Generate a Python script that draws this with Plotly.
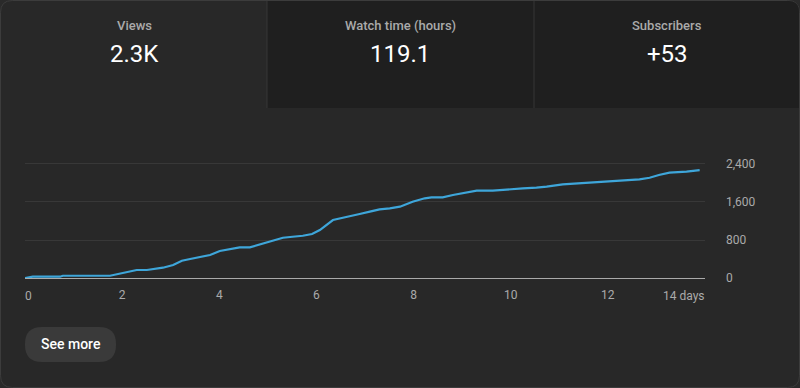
import plotly.graph_objects as go

# ---- data ----
days = [0, 0.16, 0.72, 0.78, 1.75, 2.02, 2.30, 2.51, 2.72, 2.84, 3.05, 3.23, 3.40, 3.60,
        3.81, 4.01, 4.22, 4.42, 4.63, 4.84, 5.04, 5.31, 5.51, 5.72, 5.91, 6.07, 6.34,
        6.48, 6.69, 6.89, 7.10, 7.30, 7.51, 7.72, 7.98, 8.23, 8.37, 8.60, 8.81, 9.09,
        9.30, 9.63, 9.98, 10.25, 10.53, 10.74, 11.07, 11.36, 11.69, 11.83, 12.10, 12.39,
        12.65, 12.86, 13.05, 13.27, 13.48, 13.62, 13.89]
views = [0, 27, 27, 48, 48, 105, 168, 168, 190, 217, 274, 364, 400, 442,
         484, 568, 604, 646, 646, 709, 779, 848, 869, 890, 926, 1010, 1221,
         1257, 1305, 1347, 1396, 1446, 1467, 1501, 1606, 1678, 1699, 1699, 1747, 1796,
         1838, 1838, 1874, 1888, 1901, 1922, 1972, 1993, 2006, 2027, 2042, 2063,
         2078, 2111, 2168, 2217, 2225, 2238, 2273]

x_tick_vals = [0, 2, 4, 6, 8, 10, 12, 14]
x_tick_labels = ["0", "2", "4", "6", "8", "10", "12", "14 days"]
y_tick_vals = [0, 800, 1600, 2400]

metric_names = ["Views", "Watch time (hours)", "Subscribers"]
metric_values = ["2.3K", "119.1", "+53"]
button_label = "See more"

W, H = 800, 388
FONT = "Roboto"
Y_MAX = 2430


def X(px):
    return px / W


def Y(py):
    return 1 - py / H


def rounded_path(x0, y0, x1, y1, r_tl=0, r_tr=0, r_br=0, r_bl=0):
    p = f"M {X(x0 + r_tl)},{Y(y0)} L {X(x1 - r_tr)},{Y(y0)} "
    p += f"Q {X(x1)},{Y(y0)} {X(x1)},{Y(y0 + r_tr)} "
    p += f"L {X(x1)},{Y(y1 - r_br)} Q {X(x1)},{Y(y1)} {X(x1 - r_br)},{Y(y1)} "
    p += f"L {X(x0 + r_bl)},{Y(y1)} Q {X(x0)},{Y(y1)} {X(x0)},{Y(y1 - r_bl)} "
    p += f"L {X(x0)},{Y(y0 + r_tl)} Q {X(x0)},{Y(y0)} {X(x0 + r_tl)},{Y(y0)} Z"
    return p


fig = go.Figure()
fig.add_trace(go.Scatter(x=days, y=views, mode="lines",
                         line=dict(color="#3ea6da", width=2.2), hoverinfo="skip",
                         showlegend=False))

shapes = []
# card
shapes.append(dict(type="path", xref="paper", yref="paper", layer="below",
                   path=rounded_path(0.5, 0.5, 799.5, 387.5, 12, 12, 12, 12),
                   fillcolor="#282828", line=dict(color="#3c3c3c", width=1)))
# unselected tabs
shapes.append(dict(type="path", xref="paper", yref="paper", layer="below",
                   path=rounded_path(267, 1, 799, 108, 0, 11, 0, 0),
                   fillcolor="#1f1f1f", line=dict(width=0)))
# dividers
for xd in [267, 534]:
    shapes.append(dict(type="line", xref="paper", yref="paper", layer="below",
                       x0=X(xd), x1=X(xd), y0=Y(1), y1=Y(108),
                       line=dict(color="#363636", width=1)))
# See more button
shapes.append(dict(type="path", xref="paper", yref="paper", layer="below",
                   path=rounded_path(25, 327, 116, 362, 17, 17, 17, 17),
                   fillcolor="#3a3a3a", line=dict(width=0)))

annotations = []
centers = [134, 400, 667]
for cx, name, val in zip(centers, metric_names, metric_values):
    annotations.append(dict(x=X(cx), y=Y(26), xref="paper", yref="paper",
                            text=name, showarrow=False, xanchor="center", yanchor="middle",
                            font=dict(family=FONT, size=13, color="#aaaaaa", weight=500)))
    annotations.append(dict(x=X(cx), y=Y(54), xref="paper", yref="paper",
                            text=val, showarrow=False, xanchor="center", yanchor="middle",
                            font=dict(family=FONT, size=24, color="#ffffff")))

annotations.append(dict(x=X(70.5), y=Y(344), xref="paper", yref="paper",
                        text=button_label, showarrow=False, xanchor="center", yanchor="middle",
                        font=dict(family=FONT, size=14, color="#ffffff", weight=500)))

# edge tick labels (clamped like the original)
annotations.append(dict(x=x_tick_vals[0], y=Y(296), xref="x", yref="paper",
                        text=x_tick_labels[0], showarrow=False, xanchor="left",
                        yanchor="middle", xshift=-2,
                        font=dict(family=FONT, size=12, color="#aaaaaa")))
annotations.append(dict(x=x_tick_vals[-1], y=Y(296), xref="x", yref="paper",
                        text=x_tick_labels[-1], showarrow=False, xanchor="right",
                        yanchor="middle", xshift=2,
                        font=dict(family=FONT, size=12, color="#aaaaaa")))

top_px = 278 - 114 * Y_MAX / 2400

fig.update_layout(
    width=W, height=H,
    margin=dict(l=0, r=0, t=0, b=0, pad=0),
    paper_bgcolor="#2a2a2a",
    plot_bgcolor="rgba(0,0,0,0)",
    shapes=shapes,
    annotations=annotations,
    font=dict(family=FONT, size=12, color="#aaaaaa"),
    xaxis=dict(domain=[X(25), X(705)], range=[0, 14], showgrid=False, zeroline=False,
               tickvals=x_tick_vals[1:-1], ticktext=x_tick_labels[1:-1],
               showline=True, linecolor="#aaaaaa", linewidth=1, automargin=False,
               ticks="", ticklabelstandoff=6,
               tickfont=dict(family=FONT, size=12, color="#aaaaaa"), fixedrange=True),
    yaxis=dict(domain=[Y(278), Y(top_px)], range=[0, Y_MAX], side="right",
               tickvals=y_tick_vals, tickformat=",d", showgrid=True,
               gridcolor="#383838", gridwidth=1, zeroline=False, ticks="",
               ticklabelstandoff=20, automargin=False,
               tickfont=dict(family=FONT, size=12, color="#aaaaaa"), fixedrange=True),
)

fig.write_html("out.html", config={"displayModeBar": False, "responsive": False},
               post_script="document.body.style.margin='0';document.body.style.overflow='hidden';document.body.style.background='#2a2a2a';")
